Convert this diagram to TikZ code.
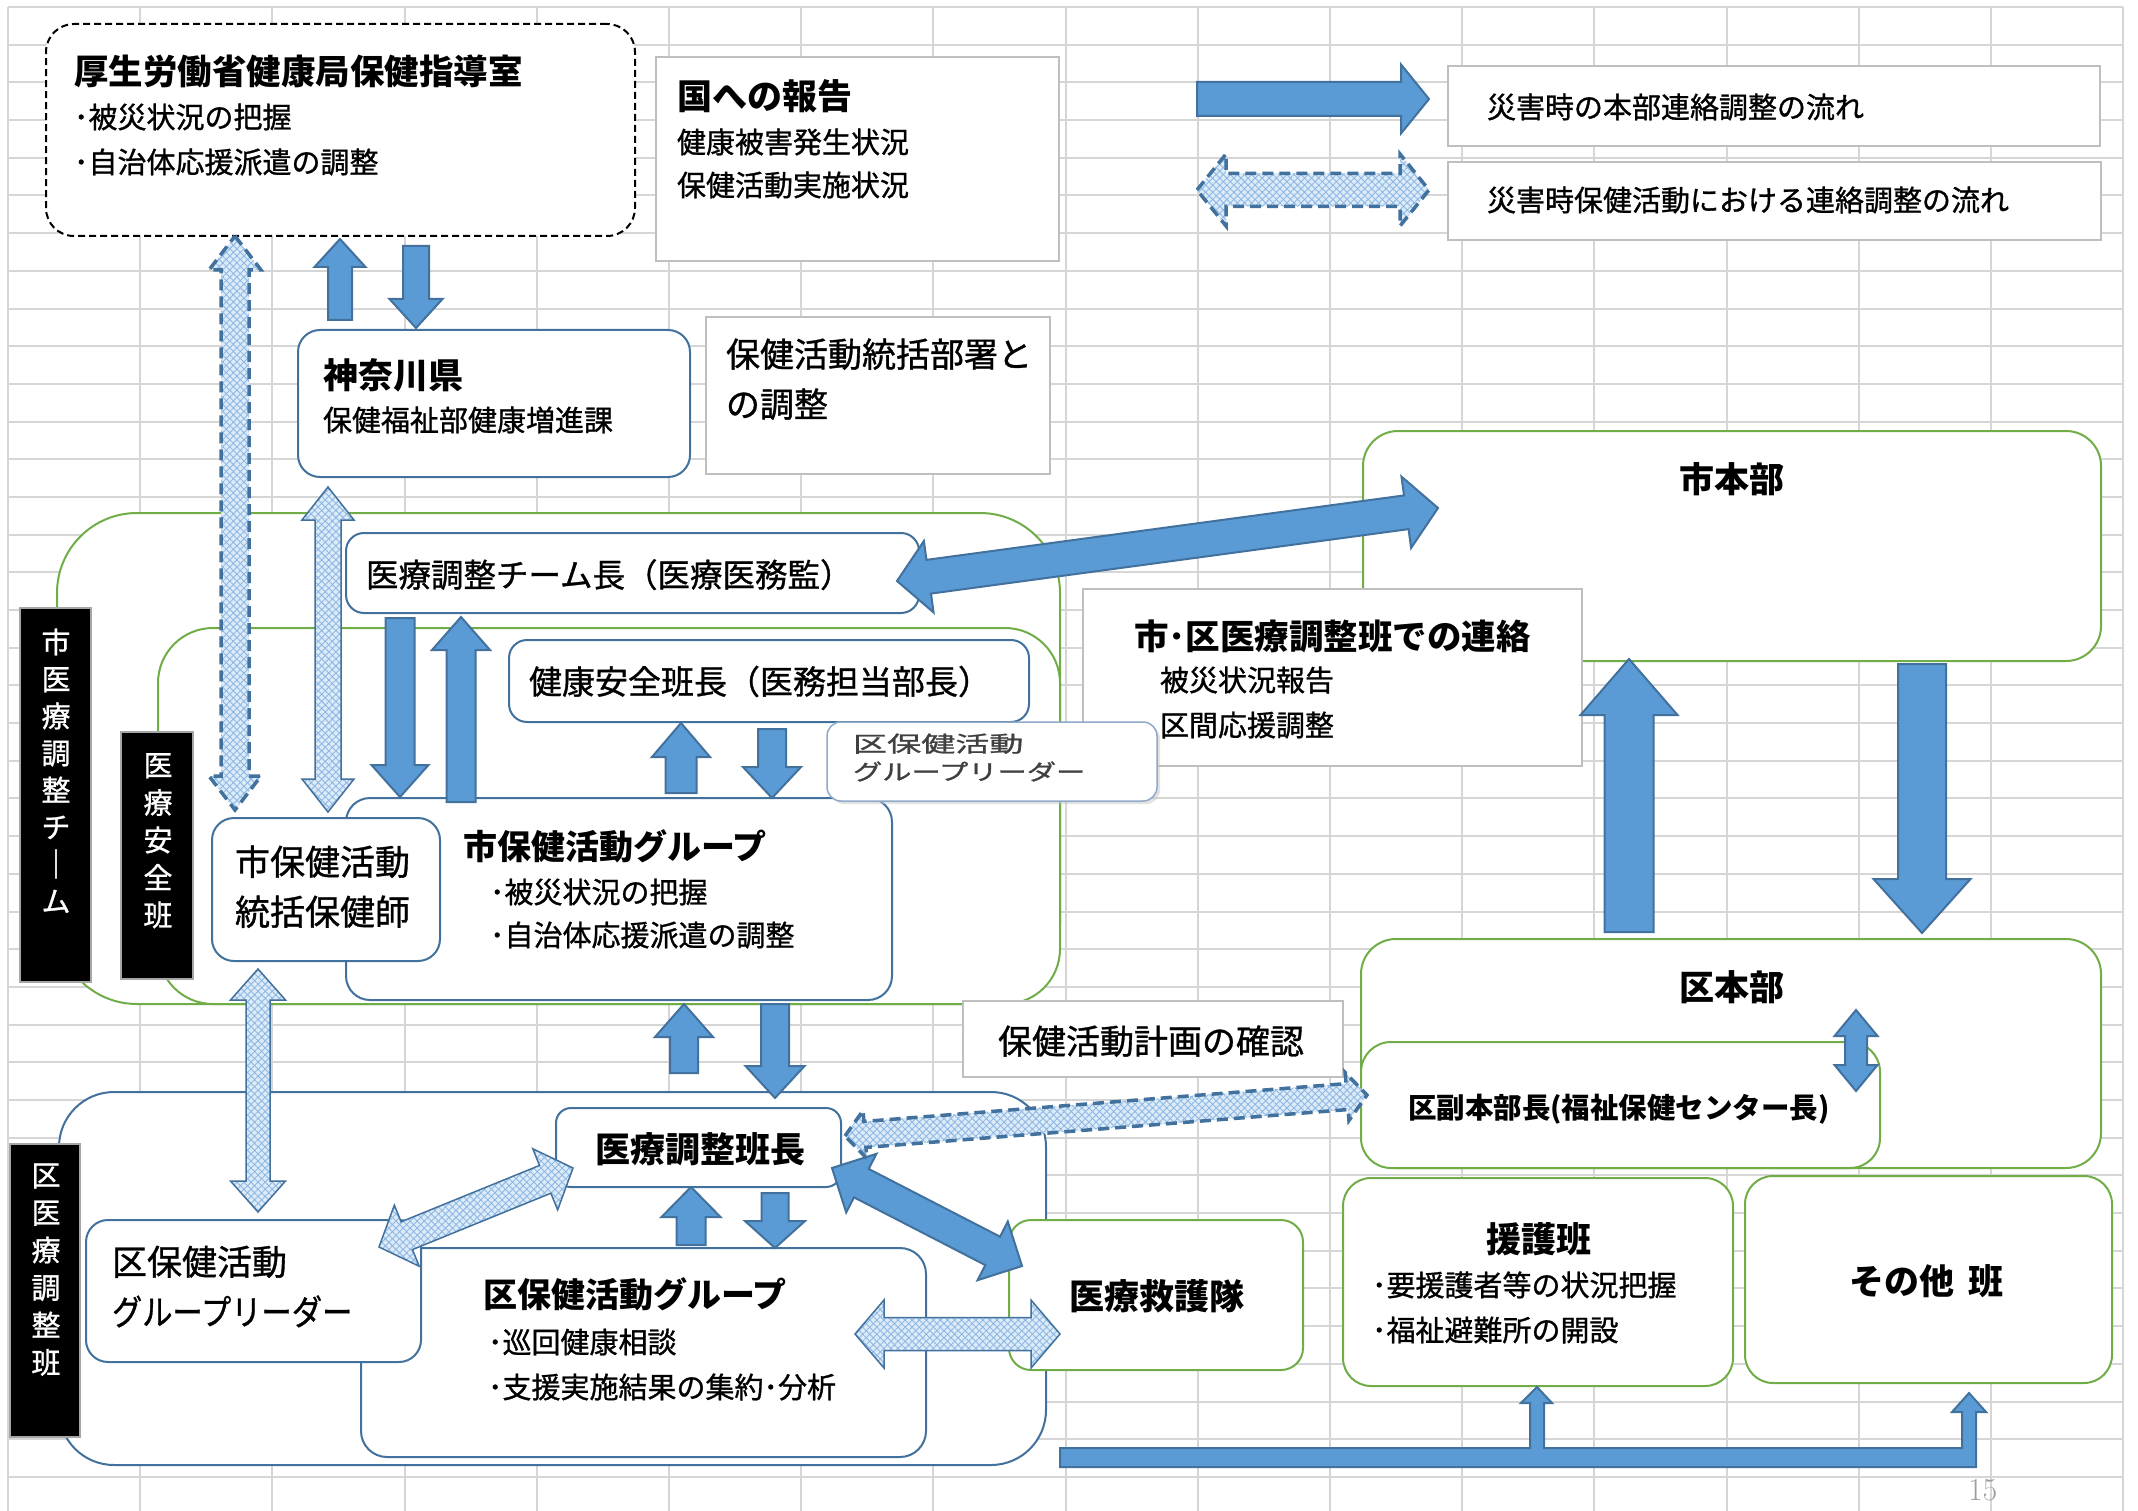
\documentclass[tikz,border=0pt]{standalone}
\usepackage{fontspec}
\usepackage{graphicx}
\newfontfamily\jp[FakeBold=1.0]{Noto Sans CJK JP}
\newfontfamily\jpb{Noto Sans CJK JP}
\usetikzlibrary{calc,patterns.meta,shadows}
\definecolor{gridc}{HTML}{D6D6D6}
\definecolor{arrowfill}{HTML}{5B9BD5}
\definecolor{arrowedge}{HTML}{41719C}
\definecolor{boxblue}{HTML}{41719C}
\definecolor{boxgreen}{HTML}{70AD47}
\definecolor{boxgray}{HTML}{BFBFBF}
\definecolor{hatchbg}{HTML}{DDEBF7}
\definecolor{hatchln}{HTML}{8DB8E6}
\definecolor{smallbd}{HTML}{8FA9C8}
\definecolor{txtgray}{HTML}{404040}
\newcommand{\fsz}[1]{\fontsize{#1}{#1}\selectfont}
% single block arrow: style, from, to, shaft half width, head half width, head length
\newcommand{\sarr}[6]{%
 \coordinate (sah) at ($(#3)!#6!(#2)$);
 \path[#1] ($(#2)!#4!90:(#3)$) -- ($(sah)!#4!90:(#3)$) -- ($(sah)!#5!90:(#3)$) -- (#3) -- ($(sah)!#5!-90:(#3)$) -- ($(sah)!#4!-90:(#3)$) -- ($(#2)!#4!-90:(#3)$) -- cycle;}
% double block arrow
\newcommand{\darr}[6]{%
 \coordinate (dah1) at ($(#2)!#6!(#3)$);
 \coordinate (dah2) at ($(#3)!#6!(#2)$);
 \path[#1] (#2) -- ($(dah1)!#5!90:(#3)$) -- ($(dah1)!#4!90:(#3)$) -- ($(dah2)!#4!90:(#3)$) -- ($(dah2)!#5!90:(#3)$) -- (#3) -- ($(dah2)!#5!-90:(#3)$) -- ($(dah2)!#4!-90:(#3)$) -- ($(dah1)!#4!-90:(#3)$) -- ($(dah1)!#5!-90:(#3)$) -- cycle;}
% box: name, style, x1, y1, x2, y2
\newcommand{\bx}[6]{\node[#2, anchor=north west, inner sep=0pt, outer sep=0pt, minimum width={(#5-#3)*1pt}, minimum height={(#6-#4)*1pt}] (#1) at (#3,#4) {};}

\begin{document}
\begin{tikzpicture}[x=1pt,y=-1pt,
 gridline/.style={draw=gridc, line width=2pt},
 bluebox/.style={draw=boxblue, line width=2pt, fill=white, rounded corners=#1},
 bluebox/.default=20pt,
 greenbox/.style={draw=boxgreen, line width=2pt, fill=white, rounded corners=#1},
 greenbox/.default=28pt,
 graybox/.style={draw=boxgray, line width=2pt, fill=white},
 dashbox/.style={draw=black, line width=2pt, fill=white, dash pattern=on 7pt off 4pt, rounded corners=28pt},
 smallbox/.style={draw=smallbd, line width=1.5pt, fill=white, rounded corners=14pt, drop shadow={shadow xshift=3pt, shadow yshift=-3pt, fill=gray!45}},
 blacklab/.style={fill=black, draw=gray!70, line width=2pt},
 solidarr/.style={fill=arrowfill, draw=arrowedge, line width=2pt, line join=miter},
 hatcharr/.style={draw=arrowedge, line width=1.5pt, line join=miter,
   preaction={fill=hatchbg},
   preaction={pattern={Lines[angle=45,distance=5pt,line width=0.9pt]}, pattern color=hatchln},
   pattern={Lines[angle=-45,distance=5pt,line width=0.9pt]}, pattern color=hatchln},
 dasharr/.style={hatcharr, line width=3.5pt, dash pattern=on 11pt off 6pt},
 txt/.style={anchor=base west, inner sep=0pt, outer sep=0pt},
 vlab/.style={anchor=base, inner sep=0pt, text=white, font=\jp\fsz{29}}
]
\useasboundingbox (0,0) rectangle (2138,1511);
\fill[white] (0,0) rectangle (2138,1511);

% ---------------- grid ----------------
\foreach \k in {0,...,16} \draw[gridline] ({8+132.2*\k},7) -- ({8+132.2*\k},1511);
\foreach \k in {0,...,39} \draw[gridline] (8,{7+37.69*\k}) -- (2123,{7+37.69*\k});

% ---------------- boxes ----------------
\bx{legA}{graybox}{1448}{66}{2100}{146}
\bx{legB}{graybox}{1448}{162}{2101}{240}
\bx{mhlw}{dashbox}{46}{24}{635}{236}
\bx{kuni}{graybox}{656}{57}{1059}{261}
\bx{touk}{graybox}{706}{317}{1050}{474}
\bx{kana}{bluebox=22pt}{298}{330}{690}{477}
\bx{shihon}{greenbox=35pt}{1363}{431}{2101}{661}

\bx{shiteam}{greenbox=80pt}{57}{513}{1060}{1004}
\bx{anzen}{greenbox=55pt}{158}{628}{1060}{1004}
\bx{chomu}{bluebox=18pt}{346}{533}{919}{613}
\bx{kenan}{bluebox=18pt}{509}{640}{1029}{722}
\bx{shigrp}{bluebox=24pt}{346}{798}{892}{1000}
\bx{shitk}{bluebox=22pt}{212}{818}{440}{961}

\bx{kuteam}{bluebox=55pt}{59}{1092}{1046}{1465}
\bx{kugrp}{bluebox=26pt}{361}{1248}{926}{1457}
\bx{kugl}{bluebox=22pt}{86}{1220}{421}{1362}
\bx{ichohan}{bluebox=15pt}{556}{1108}{841}{1187}

\bx{kuhon}{greenbox=35pt}{1361}{939}{2101}{1168}
\bx{kufuku}{greenbox=30pt}{1361}{1042}{1880}{1168}
\bx{engo}{greenbox=28pt}{1343}{1178}{1733}{1386}
\bx{sonota}{greenbox=28pt}{1745}{1176}{2112}{1383}
\bx{kyugo}{greenbox=22pt}{1009}{1220}{1303}{1370}
\bx{keikaku}{graybox}{963}{1001}{1343}{1077}
\bx{shiku}{graybox}{1083}{589}{1582}{766}
\bx{kuglS}{smallbox}{827}{722}{1157}{801}

% black vertical labels
\bx{labA}{blacklab}{20}{608}{91}{982}
\bx{labB}{blacklab}{121}{732}{193}{979}
\bx{labC}{blacklab}{10}{1144}{80}{1437}
\foreach [count=\i] \c in {市,医,療,調,整,チ,｜,ム} \node[vlab] (la\i) at (56,{653+37*(\i-1)}) {\c};
\foreach [count=\i] \c in {医,療,安,全,班} \node[vlab] (lb\i) at (158,{776+37.5*(\i-1)}) {\c};
\foreach [count=\i] \c in {区,医,療,調,整,班} \node[vlab] (lc\i) at (46,{1186+37.5*(\i-1)}) {\c};

% ---------------- arrows ----------------
% legend
\coordinate (lg1s) at (1197,99); \coordinate (lg1e) at (1429,99);
\sarr{solidarr}{lg1s}{lg1e}{17pt}{34.5pt}{28pt}
\coordinate (lg2s) at (1197,190); \coordinate (lg2e) at (1429,190);
\darr{dasharr}{lg2s}{lg2e}{16.5pt}{36pt}{29pt}

% MHLW <-> Kanagawa
\coordinate (a1s) at (340,320); \coordinate (a1e) at (340,239);
\sarr{solidarr}{a1s}{a1e}{12pt}{25.5pt}{28pt}
\coordinate (a2s) at (416,246); \coordinate (a2e) at (416,328);
\sarr{solidarr}{a2s}{a2e}{13pt}{26.5pt}{29pt}
% MHLW <-> city coordinator (dashed hatched)
\coordinate (dh1s) at (235,236); \coordinate (dh1e) at (235,810);
\darr{dasharr}{dh1s}{dh1e}{14pt}{26pt}{34pt}
% Kanagawa <-> city coordinator
\coordinate (h1s) at (328,487); \coordinate (h1e) at (328,812);
\darr{hatcharr}{h1s}{h1e}{13pt}{26pt}{33pt}
% team leader <-> city group
\coordinate (a3s) at (400,618); \coordinate (a3e) at (400,797);
\sarr{solidarr}{a3s}{a3e}{14.5pt}{28.5pt}{32pt}
\coordinate (a4s) at (461,802); \coordinate (a4e) at (461,617);
\sarr{solidarr}{a4s}{a4e}{14.5pt}{29pt}{33pt}
% city group <-> health safety chief
\coordinate (a5s) at (681,793); \coordinate (a5e) at (681,723);
\sarr{solidarr}{a5s}{a5e}{15.5pt}{29pt}{34pt}
\coordinate (a6s) at (772,729); \coordinate (a6e) at (772,798);
\sarr{solidarr}{a6s}{a6e}{14pt}{29pt}{31pt}
% big diagonal to city HQ
\coordinate (d1s) at (897,581); \coordinate (d1e) at (1438,508);
\darr{solidarr}{d1s}{d1e}{17pt}{36pt}{32pt}
% city group <-> ward chief
\coordinate (a7s) at (684,1073); \coordinate (a7e) at (684,1004);
\sarr{solidarr}{a7s}{a7e}{14pt}{29pt}{33pt}
\coordinate (a8s) at (775,1004); \coordinate (a8e) at (775,1098);
\sarr{solidarr}{a8s}{a8e}{14pt}{29.5pt}{32pt}
% city coordinator <-> ward GL
\coordinate (h2s) at (258,969); \coordinate (h2e) at (258,1212);
\darr{hatcharr}{h2s}{h2e}{12pt}{27.5pt}{31pt}
% ward GL <-> ward chief
\coordinate (h3s) at (379,1247); \coordinate (h3e) at (573,1168);
\darr{hatcharr}{h3s}{h3e}{15pt}{33pt}{30pt}
% ward chief <-> ward group
\coordinate (a9s) at (691,1245); \coordinate (a9e) at (691,1187);
\sarr{solidarr}{a9s}{a9e}{14.5pt}{29.5pt}{30pt}
\coordinate (a10s) at (775,1193); \coordinate (a10e) at (775,1248);
\sarr{solidarr}{a10s}{a10e}{13.5pt}{30pt}{27pt}
% ward chief <-> medical relief
\coordinate (d2s) at (832,1168); \coordinate (d2e) at (1022,1266);
\darr{solidarr}{d2s}{d2e}{16pt}{33pt}{33pt}
% ward group <-> medical relief
\coordinate (h4s) at (855,1334); \coordinate (h4e) at (1060,1334);
\darr{hatcharr}{h4s}{h4e}{16.5pt}{34pt}{29pt}
% ward chief <-> deputy HQ chief
\coordinate (dh2s) at (845,1136); \coordinate (dh2e) at (1367,1095);
\darr{dasharr}{dh2s}{dh2e}{13pt}{24pt}{20pt}
% ward HQ <-> city HQ
\coordinate (a11s) at (1629,932); \coordinate (a11e) at (1629,659);
\sarr{solidarr}{a11s}{a11e}{24.5pt}{48.5pt}{56pt}
\coordinate (a12s) at (1922,664); \coordinate (a12e) at (1922,933);
\sarr{solidarr}{a12s}{a12e}{24pt}{48.5pt}{54pt}
% ward HQ <-> deputy
\coordinate (a13s) at (1856,1010); \coordinate (a13e) at (1856,1091);
\darr{solidarr}{a13s}{a13e}{11pt}{21.5pt}{26pt}
% bottom bent arrow
\path[solidarr] (1060,1448) -- (1530,1448) -- (1530,1403) -- (1521,1403) -- (1537,1387) -- (1552,1403) -- (1544,1403) -- (1544,1448) -- (1962,1448) -- (1962,1412) -- (1952,1412) -- (1969,1393) -- (1986,1412) -- (1976,1412) -- (1976,1467) -- (1060,1467) -- cycle;

% ---------------- texts ----------------
\node[txt,font=\jpb\bfseries\fsz{34.5}] (tmh1) at (74,85) {厚生労働省健康局保健指導室};
\node[txt,font=\jp\fsz{29}] (tmh2) at (74,128) {･被災状況の把握};
\node[txt,font=\jp\fsz{29}] (tmh3) at (74,173) {･自治体応援派遣の調整};
\node[txt,font=\jpb\bfseries\fsz{35}] (tku1) at (677,110) {国への報告};
\node[txt,font=\jp\fsz{29}] (tku2) at (677,153) {健康被害発生状況};
\node[txt,font=\jp\fsz{29}] (tku3) at (677,196) {保健活動実施状況};
\node[txt,font=\jpb\bfseries\fsz{35}] (tka1) at (323,388) {神奈川県};
\node[txt,font=\jp\fsz{29}] (tka2) at (323,431) {保健福祉部健康増進課};
\node[txt,font=\jp\fsz{34}] (tto1) at (726,367) {保健活動統括部署と};
\node[txt,font=\jp\fsz{34}] (tto2) at (726,417) {の調整};
\node[txt,font=\jp\fsz{29}] (tlgA) at (1487,118) {災害時の本部連絡調整の流れ};
\node[txt,font=\jp\fsz{29}] (tlgB) at (1487,211) {災害時保健活動における連絡調整の流れ};
\node[txt,font=\jpb\bfseries\fsz{35}] (tsh) at (1679,492) {市本部};
\node[txt,font=\jp\fsz{32.5}] (tch) at (366,587) {医療調整チーム長（医療医務監）};
\node[txt,font=\jp\fsz{33}] (tke) at (529,694) {健康安全班長（医務担当部長）};
\node[txt,font=\jpb\bfseries\fsz{34.5}] (tsk1) at (1134,649) {市･区医療調整班での連絡};
\node[txt,font=\jp\fsz{29}] (tsk2) at (1160,691) {被災状況報告};
\node[txt,font=\jp\fsz{29}] (tsk3) at (1160,736) {区間応援調整};
\node[txt,font=\jp\fsz{22},text=txtgray] (tkgs1) at (853,752) {\scalebox{1.55}[1]{区保健活動}};
\node[txt,font=\jp\fsz{22},text=txtgray] (tkgs2) at (853,780) {\scalebox{1.33}[1]{グループリーダー}};
\node[txt,font=\jp\fsz{35}] (tst1) at (235,875) {市保健活動};
\node[txt,font=\jp\fsz{35}] (tst2) at (235,925) {統括保健師};
\node[txt,font=\jpb\bfseries\fsz{34}] (tsg1) at (463,859) {市保健活動グループ};
\node[txt,font=\jp\fsz{29}] (tsg2) at (490,903) {･被災状況の把握};
\node[txt,font=\jp\fsz{29}] (tsg3) at (490,946) {･自治体応援派遣の調整};
\node[txt,font=\jp\fsz{34}] (tkk) at (998,1054) {保健活動計画の確認};
\node[txt,font=\jpb\bfseries\fsz{35}] (tkh) at (1679,1000) {区本部};
\node[txt,font=\jpb\bfseries\fsz{28.5}] (tkf) at (1408,1118) {区副本部長(福祉保健センター長)};
\node[txt,font=\jpb\bfseries\fsz{35}] (tic) at (595,1162) {医療調整班長};
\node[txt,font=\jp\fsz{35}] (tkl1) at (112,1275) {区保健活動};
\node[txt,font=\jp\fsz{35}] (tkl2) at (112,1325) {\scalebox{0.865}[1]{グループリーダー}};
\node[txt,font=\jpb\bfseries\fsz{34}] (tkg1) at (483,1307) {区保健活動グループ};
\node[txt,font=\jp\fsz{29}] (tkg2) at (488,1353) {･巡回健康相談};
\node[txt,font=\jp\fsz{29}] (tkg3) at (488,1398) {･支援実施結果の集約･分析};
\node[txt,font=\jpb\bfseries\fsz{35}] (tkyu) at (1069,1309) {医療救護隊};
\node[txt,font=\jpb\bfseries\fsz{35}] (ten1) at (1486,1252) {援護班};
\node[txt,font=\jp\fsz{29}] (ten2) at (1372,1296) {･要援護者等の状況把握};
\node[txt,font=\jp\fsz{29}] (ten3) at (1372,1341) {･福祉避難所の開設};
\node[txt,font=\jpb\bfseries\fsz{35}] (tso) at (1849,1294) {その他\hspace{14pt}班};
\node[txt,font=\rmfamily\fsz{32},text=gray!75] (tpg) at (1968,1500) {15};
\end{tikzpicture}
\end{document}
